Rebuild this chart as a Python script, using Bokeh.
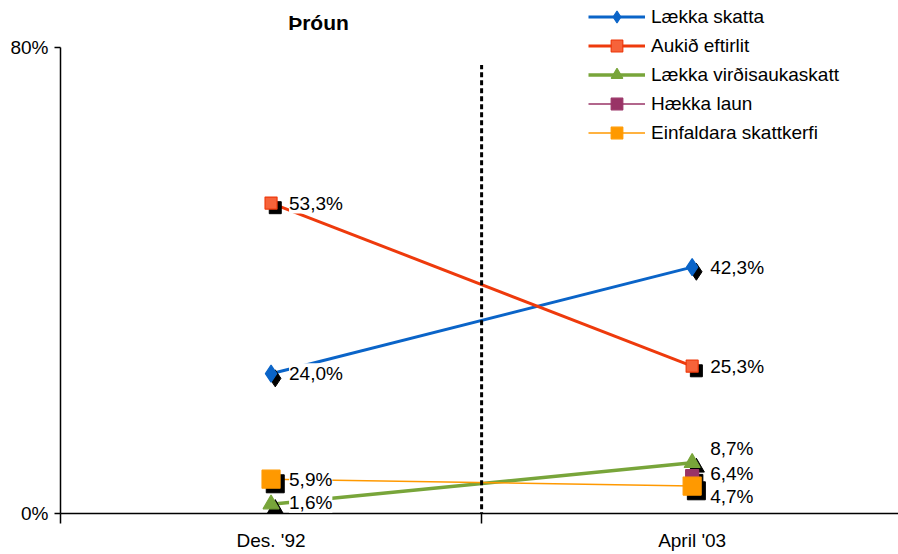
from bokeh.plotting import figure
from bokeh.models import Range1d, FixedTicker, Legend, LegendItem, LabelSet, Label, ColumnDataSource
from bokeh.transform import dodge
from bokeh.core.properties import value
from bokeh.embed import file_html
from bokeh.resources import INLINE

# ---------------- data ----------------
categories = ["Des. '92", "April '03"]
series_names = ["Lækka skatta", "Aukið eftirlit", "Lækka virðisaukaskatt", "Hækka laun", "Einfaldara skattkerfi"]
laekka_skatta = [24.0, 42.3]
aukid_eftirlit = [53.3, 25.3]
laekka_vsk = [1.6, 8.7]
haekka_laun = [float("nan"), 6.4]
einfaldara = [5.9, 4.7]
y_ticks = [0, 80]
y_tick_labels = ["0%", "80%"]
title_text = "Þróun"

series_values = [laekka_skatta, aukid_eftirlit, laekka_vsk, haekka_laun, einfaldara]

# ---------------- styles ----------------
styles = [
    dict(color="#0A64C8", lw=3, marker="diamond", size=17, fill="#0A64C8"),
    dict(color="#EE3A0C", lw=3, marker="square", size=12, fill="#F6633A"),
    dict(color="#78A53A", lw=3.5, marker="triangle", size=16, fill="#78A53A"),
    dict(color="#993366", lw=1.5, marker="square", size=13, fill="#993366"),
    dict(color="#FF9900", lw=1.5, marker="square", size=18, fill="#FF9900"),
]
# label offsets (px) per series at each category
label_yoff = [[0, 0], [0, 0], [2, 14], [0, 3], [0, -10]]
FONT = "Liberation Sans"

cat_x = [i + 0.5 for i in range(len(categories))]
divider_x = len(categories) / 2

# frame spans the full height above the axis; the axis itself is bounded to 0..80
y_top = y_ticks[-1] * 513 / 466

p = figure(width=898, height=554, x_range=Range1d(0, 1.99), y_range=Range1d(0, y_top),
           output_backend="svg", toolbar_location=None,
           min_border_left=60, min_border_right=0, min_border_top=0, min_border_bottom=41)
p.outline_line_color = None
p.xgrid.visible = False
p.ygrid.visible = False
p.background_fill_color = "white"

legend_items = []
label_x, label_y, label_t, label_xo, label_yo = [], [], [], [], []
line_rs = []
for name, vals, st, yo in zip(series_names, series_values, styles, label_yoff):
    src = ColumnDataSource(dict(x=cat_x, y=vals))
    lr = p.line("x", "y", source=src, line_color=st["color"], line_width=st["lw"])
    line_rs.append((lr, src, st, name))
    for xx, vv, o in zip(cat_x, vals, yo):
        if vv == vv:
            label_x.append(xx); label_y.append(vv)
            label_t.append(f"{vv:.1f}".replace(".", ",") + "%")
            label_xo.append(18); label_yo.append(o)

# divider
p.segment(x0=[divider_x], y0=[-2], x1=[divider_x], y1=[77], line_color="black",
          line_width=3, line_dash="5 3")

# shadows then markers
for lr, src, st, name in line_rs:
    p.scatter(x=dodge("x", 0.01), y=dodge("y", -0.8), source=src, marker=st["marker"],
              size=st["size"], fill_color="black", line_color="black")
for lr, src, st, name in line_rs:
    mr = p.scatter("x", "y", source=src, marker=st["marker"], size=st["size"],
                   fill_color=st["fill"], line_color=st["color"], line_width=1.2)
    legend_items.append(LegendItem(label=name, renderers=[lr, mr]))

lsrc = ColumnDataSource(dict(x=label_x, y=label_y, text=label_t, xo=label_xo, yo=label_yo))
labels = LabelSet(x="x", y="y", text="text", x_offset="xo", y_offset="yo", source=lsrc,
                  text_baseline="middle", text_align="left", text_font=value(FONT),
                  text_font_size="19px", text_color="black",
                  background_fill_color="white")
p.add_layout(labels)

# axes
p.xaxis.ticker = FixedTicker(ticks=cat_x, minor_ticks=[0, 1, 2])
p.xaxis.major_label_overrides = {x: c for x, c in zip(cat_x, categories)}
p.yaxis.ticker = FixedTicker(ticks=y_ticks)
p.yaxis.major_label_overrides = {t: l for t, l in zip(y_ticks, y_tick_labels)}
p.yaxis.bounds = (y_ticks[0], y_ticks[-1])
for ax in (p.xaxis, p.yaxis):
    ax.axis_line_color = "black"
    ax.axis_line_width = 1.5
    ax.major_tick_line_color = "black"
    ax.major_tick_line_width = 1.5
    ax.major_label_text_font = FONT
    ax.major_label_text_font_size = "19px"
    ax.major_label_text_color = "black"
    ax.major_tick_in = 0
p.xaxis.major_tick_out = 0
p.xaxis.minor_tick_out = 10
p.xaxis.minor_tick_in = 0
p.xaxis.minor_tick_line_color = "black"
p.xaxis.minor_tick_line_width = 1.5
p.xaxis.major_label_standoff = 6
p.yaxis.major_tick_out = 6
p.yaxis.minor_tick_line_color = None
p.yaxis.major_label_standoff = 6

# title
p.add_layout(Label(x=258, y=491, x_units="screen", y_units="screen", text=title_text,
                   text_font=FONT, text_font_style="bold", text_font_size="21px",
                   text_align="center", text_baseline="middle", text_color="black"))

legend = Legend(items=legend_items, location=(528, 366), orientation="vertical",
                glyph_width=57, glyph_height=29, label_height=20, spacing=0,
                label_standoff=6, padding=0, margin=0,
                label_text_font=FONT, label_text_font_size="19px", label_text_color="black",
                border_line_alpha=0, background_fill_alpha=0)
p.add_layout(legend, "center")

open("out.html", "w").write(file_html(p, INLINE))
